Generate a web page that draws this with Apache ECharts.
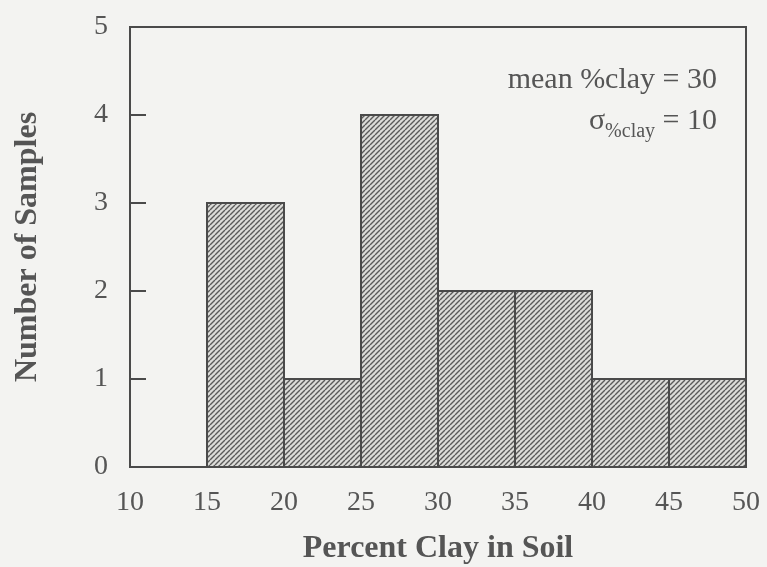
<!DOCTYPE html>
<html>
<head>
<meta charset="utf-8">
<script src="https://cdn.jsdelivr.net/npm/echarts@6/dist/echarts.min.js"></script>
<style>
  html, body { margin: 0; padding: 0; background: #f3f3f1; }
  #chart { width: 767px; height: 567px; }
</style>
</head>
<body>
<div id="chart"></div>
<script>
// Histogram bins (percent clay) and sample counts
const binStarts = [15, 20, 25, 30, 35, 40, 45];
const binEnds   = [20, 25, 30, 35, 40, 45, 50];
const counts    = [3, 1, 4, 2, 2, 1, 1];
const xTicks = [10, 15, 20, 25, 30, 35, 40, 45, 50];
const yTicks = [0, 1, 2, 3, 4, 5];

const ink = '#4a4a4a';
const textColor = '#555555';
const serif = '"Liberation Serif", "DejaVu Serif", serif';

// Diagonal hatch tile for the bar fill
function hatchTile() {
  const s = 5;
  const c = document.createElement('canvas');
  c.width = s; c.height = s;
  const g = c.getContext('2d');
  g.fillStyle = '#dcdcd9';
  g.fillRect(0, 0, s, s);
  g.strokeStyle = '#5a5a5a';
  g.lineWidth = 1.4;
  g.beginPath();
  for (let k = -1; k <= 1; k++) {
    g.moveTo(k * s, s);
    g.lineTo(k * s + s, 0);
  }
  g.stroke();
  return c;
}

const chart = echarts.init(document.getElementById('chart'), null, { renderer: 'canvas' });

const data = binStarts.map((b, i) => [b, binEnds[i], counts[i]]);

chart.setOption({
  backgroundColor: '#f3f3f1',
  animation: false,
  grid: {
    left: 130, right: 21, top: 27, bottom: 100,
    outerBoundsMode: 'none', containLabel: false,
    show: true, borderColor: ink, borderWidth: 2, backgroundColor: 'transparent'
  },
  xAxis: {
    type: 'value', min: 10, max: 50, interval: 5,
    name: 'Percent Clay in Soil', nameLocation: 'middle', nameGap: 66,
    nameTextStyle: { fontFamily: serif, fontWeight: 'bold', fontSize: 32, color: textColor },
    axisLine: { show: true, lineStyle: { color: ink, width: 2 } },
    axisTick: { show: false },
    splitLine: { show: false },
    axisLabel: { fontFamily: serif, fontSize: 28, color: textColor, margin: 22,
      formatter: v => xTicks.includes(v) ? String(v) : '' }
  },
  yAxis: {
    type: 'value', min: 0, max: 5, interval: 1,
    name: 'Number of Samples', nameLocation: 'middle', nameGap: 86,
    nameTextStyle: { fontFamily: serif, fontWeight: 'bold', fontSize: 32, color: textColor },
    axisLine: { show: true, lineStyle: { color: ink, width: 2 } },
    axisTick: { show: true, inside: true, length: 16, lineStyle: { color: ink, width: 2 } },
    splitLine: { show: false },
    axisLabel: { fontFamily: serif, fontSize: 28, color: textColor, margin: 22,
      formatter: v => yTicks.includes(v) ? String(v) : '' }
  },
  graphic: [
    {
      type: 'text', x: 717, y: 80,
      style: { text: 'mean %clay = 30', font: '30px ' + serif, fill: textColor,
        align: 'right', verticalAlign: 'middle' }
    },
    {
      type: 'text', x: 717, y: 124,
      style: {
        text: '{s|σ}{sub|%clay}{s| = 10}',
        fill: textColor,
        align: 'right', verticalAlign: 'middle',
        rich: {
          s: { fontFamily: serif, fontSize: 30, fill: textColor, verticalAlign: 'top' },
          sub: { fontFamily: serif, fontSize: 20, fill: textColor, padding: [16, 0, 0, 0], verticalAlign: 'top' }
        }
      }
    }
  ],
  series: [{
    type: 'custom',
    data: data,
    encode: { x: [0, 1], y: 2 },
    renderItem: function (params, api) {
      const p0 = api.coord([api.value(0), api.value(2)]);
      const p1 = api.coord([api.value(1), 0]);
      return {
        type: 'rect',
        shape: { x: p0[0], y: p0[1], width: p1[0] - p0[0], height: p1[1] - p0[1] },
        style: {
          fill: { image: hatchTile(), repeat: 'repeat' },
          stroke: ink, lineWidth: 2
        }
      };
    }
  }]
});
</script>
</body>
</html>
